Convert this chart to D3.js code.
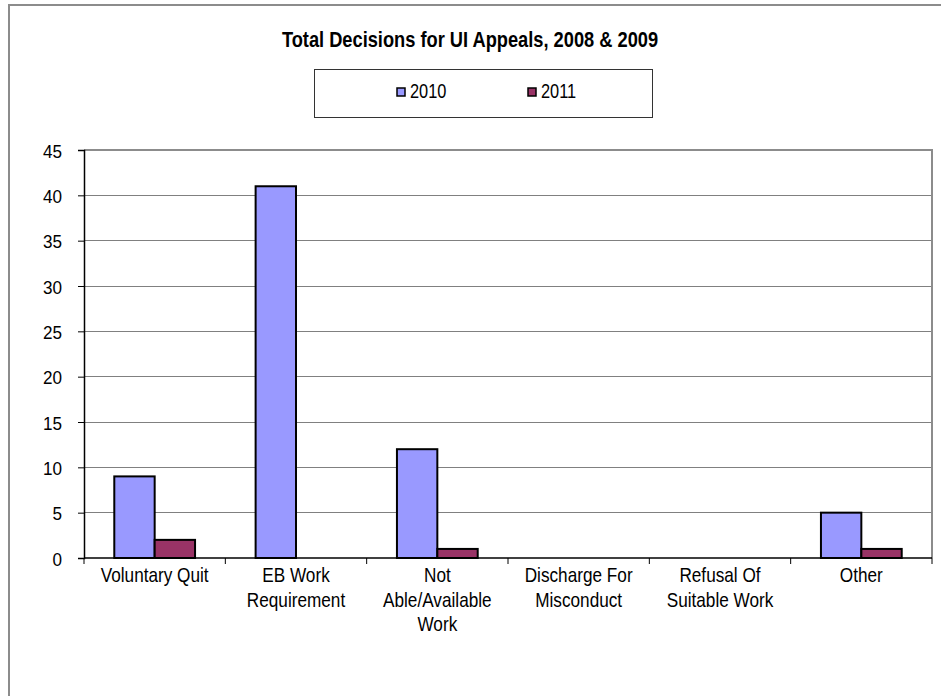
<!DOCTYPE html>
<html><head><meta charset="utf-8">
<script src="https://cdn.jsdelivr.net/npm/d3@7"></script>
<style>
body{margin:0;background:#fff;}
text{font-family:"Liberation Sans Narrow","Arial Narrow","Liberation Sans",Arial,sans-serif;}
</style></head>
<body><svg id="c" width="941" height="696"></svg>
<script>
const title = "Total Decisions for UI Appeals, 2008 & 2009";
const categories = [["Voluntary Quit"],["EB Work","Requirement"],["Not","Able/Available","Work"],["Discharge For","Misconduct"],["Refusal Of","Suitable Work"],["Other"]];
const seriesNames = ["2010","2011"];
const values2010 = [9,41,12,0,0,5];
const values2011 = [2,0,1,0,0,1];
const yTicks = [0,5,10,15,20,25,30,35,40,45];
const colors = ["#9999FF","#993366"];

const SX = 0.84; // horizontal condensing to mimic a narrow face
const svg = d3.select("#c");
function ntext(g, x, y, str, size, opts={}){
  return g.append("text").attr("transform",`translate(${x},${y}) scale(${opts.sx||SX},1)`)
    .attr("font-size",size).attr("text-anchor",opts.anchor||"start")
    .attr("font-weight",opts.weight||"normal").attr("fill","#000").text(str);
}

// outer chart border
svg.append("rect").attr("x",9).attr("y",5).attr("width",960).attr("height",720)
  .attr("fill","none").attr("stroke","#8c8c8c").attr("stroke-width",2);

const L=84, R=932, T=150, B=558;
const x = d3.scaleBand().domain(d3.range(categories.length)).range([L,R]).paddingInner(0).paddingOuter(0);
const y = d3.scaleLinear().domain([0,45]).range([B,T]);
const inner = d3.scaleBand().domain([0,1]).range([0,x.bandwidth()]).paddingInner(0).paddingOuter(0.75);

// gridlines
svg.append("g").selectAll("line").data(yTicks.slice(1)).join("line")
  .attr("x1",L).attr("x2",R).attr("y1",d=>y(d)).attr("y2",d=>y(d))
  .attr("stroke","#808080").attr("stroke-width",1).attr("shape-rendering","crispEdges");
// plot border top/right
svg.append("path").attr("d",`M${L},${T}H${R}V${B}`).attr("fill","none").attr("stroke","#8c8c8c").attr("stroke-width",2);

// bars
const series=[values2010,values2011];
series.forEach((vals,si)=>{
  svg.append("g").selectAll("rect").data(vals).join("rect")
    .attr("x",(d,i)=>x(i)+inner(si)).attr("width",inner.bandwidth())
    .attr("y",d=>y(d)).attr("height",d=>B-y(d))
    .attr("fill",colors[si]).attr("stroke","#000").attr("stroke-width",2)
    .attr("display",d=>d>0?null:"none");
});

// y axis
const ya = svg.append("g").attr("transform",`translate(${L},0)`)
  .call(d3.axisLeft(y).tickValues(yTicks).tickSize(6).tickPadding(10));
ya.select(".domain").attr("stroke","#000").attr("stroke-width",1.5);
ya.selectAll(".tick line").attr("stroke","#000");
ya.selectAll(".tick text").remove();
ya.selectAll(".tick").each(function(d){
  ntext(d3.select(this), -22, 7, d, 19, {anchor:"end", sx:0.9});
});

// x axis
const xa = svg.append("g").attr("transform",`translate(0,${B})`);
xa.append("line").attr("x1",L).attr("x2",R).attr("y1",0).attr("y2",0).attr("stroke","#000").attr("stroke-width",1.5);
xa.selectAll("line.t").data(d3.range(categories.length+1)).join("line").attr("class","t")
  .attr("x1",d=>L+d*x.bandwidth()).attr("x2",d=>L+d*x.bandwidth()).attr("y1",0).attr("y2",6)
  .attr("stroke","#000").attr("stroke-width",1);
categories.forEach((lines,i)=>{
  lines.forEach((ln,j)=>ntext(xa, x(i)+x.bandwidth()/2, 24+j*24.5, ln, 20, {anchor:"middle", sx:0.86}));
});

// title
ntext(svg, 470, 47, title, 22, {anchor:"middle", weight:"bold", sx:0.83});

// legend
svg.append("rect").attr("x",314.5).attr("y",69.5).attr("width",338).attr("height",48)
  .attr("fill","#fff").attr("stroke","#333").attr("stroke-width",1);
const lx=[397,528];
seriesNames.forEach((n,i)=>{
  svg.append("rect").attr("x",lx[i]).attr("y",88).attr("width",8).attr("height",8)
    .attr("fill",colors[i]).attr("stroke","#000").attr("stroke-width",1.5);
  ntext(svg, lx[i]+13, 98, n, 19.5, {sx:0.84});
});
</script></body></html>
